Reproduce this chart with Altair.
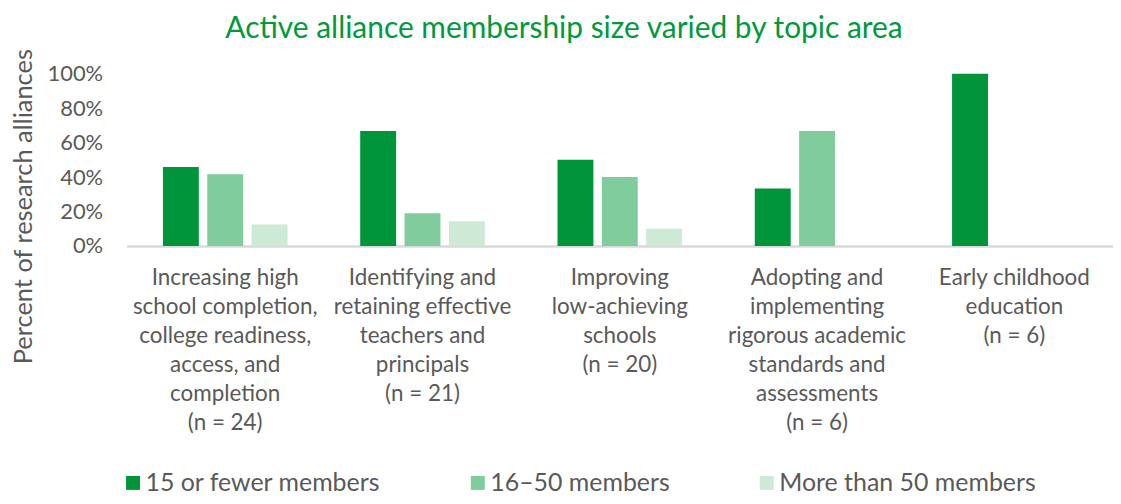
import altair as alt
import pandas as pd

categories = [
    "Increasing high|school completion,|college readiness,|access, and|completion|(n = 24)",
    "Identifying and|retaining effective|teachers and|principals|(n = 21)",
    "Improving|low-achieving|schools|(n = 20)",
    "Adopting and|implementing|rigorous academic|standards and|assessments|(n = 6)",
    "Early childhood|education|(n = 6)",
]
series = ["15 or fewer members", "16\u201350 members", "More than 50 members"]
small = [0.458, 0.667, 0.50, 0.333, 1.0]
medium = [0.417, 0.190, 0.40, 0.667, 0.0]
large = [0.125, 0.143, 0.10, 0.0, 0.0]
colors = ["#00953A", "#80CC9C", "#CCEAD6"]

rows = []
for s, vals in zip(series, [small, medium, large]):
    for c, v in zip(categories, vals):
        rows.append({"topic": c, "size": s, "pct": v})
df = pd.DataFrame(rows)

FONT = "Lato"
GRAY = "#595959"

chart = alt.Chart(df).mark_bar().encode(
    x=alt.X("topic:N", sort=categories,
            scale=alt.Scale(paddingInner=0, paddingOuter=0),
            axis=alt.Axis(title=None, labelAngle=0, labelExpr="split(datum.label, '|')",
                          labelFont=FONT, labelFontSize=22.5, labelColor=GRAY,
                          labelLineHeight=29, labelPadding=21, labelLimit=0,
                          ticks=False, domainColor="#D9D9D9", domainWidth=2.5,
                          labelBaseline="top")),
    xOffset=alt.XOffset("size:N", sort=series,
                        scale=alt.Scale(paddingInner=0.19, paddingOuter=0.82)),
    y=alt.Y("pct:Q", scale=alt.Scale(domain=[0, 1], nice=False),
            axis=alt.Axis(title="Percent of research alliances", format=".0%",
                          values=[0, 0.2, 0.4, 0.6, 0.8, 1.0],
                          labelFont=FONT, labelFontSize=22, labelColor=GRAY,
                          labelPadding=24, ticks=False, domain=False, grid=False,
                          titleFont=FONT, titleFontSize=25.5, titleFontWeight="normal",
                          titleColor=GRAY, titleX=-90, titleY=133,
                          titleAlign="center", titleBaseline="bottom", titleAngle=270)),
    color=alt.Color("size:N", sort=series,
                    scale=alt.Scale(domain=series, range=colors),
                    legend=alt.Legend(title=None, orient="none", legendX=-6, legendY=398,
                                      direction="horizontal", symbolType="square",
                                      symbolSize=196, symbolStrokeWidth=0,
                                      labelFont=FONT, labelFontSize=25, labelColor=GRAY,
                                      labelOffset=0, columnPadding=84, labelLimit=0)),
).properties(
    width=990,
    height=173,
    title=alt.TitleParams("Active alliance membership size varied by topic area",
                          font=FONT, fontSize=30, fontWeight="normal", color="#009A3D",
                          anchor="middle", dx=-56, offset=4),
    autosize=alt.AutoSizeParams(type="none"),
    padding={"left": 119, "top": 65, "right": 0, "bottom": 250},
).configure_view(stroke=None)

chart.save("out.html", embed_options={"renderer": "svg", "actions": False})
